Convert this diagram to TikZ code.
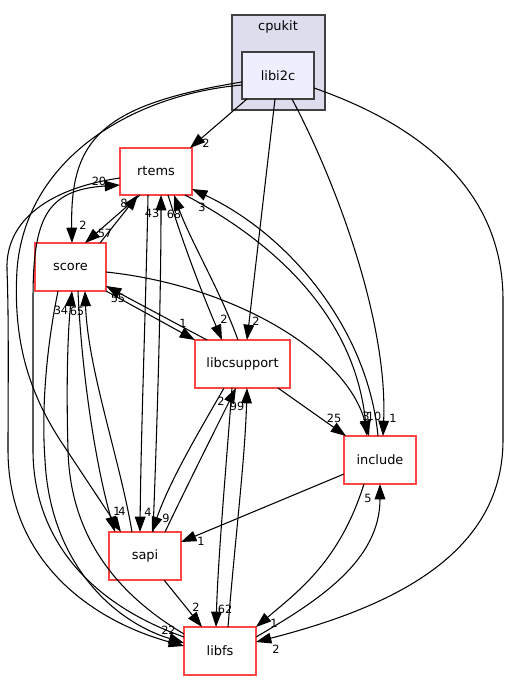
\documentclass[tikz,border=0pt]{standalone}
\usepackage{fontspec}
\setmainfont{DejaVu Sans}
\usetikzlibrary{arrows.meta,calc}
\definecolor{redb}{HTML}{FF4444}
\definecolor{clfill}{HTML}{DDDDEE}
\definecolor{nodefill}{HTML}{EEEEFF}
\definecolor{greyb}{HTML}{404040}
\begin{document}
\begin{tikzpicture}[x=0.75pt,y=-0.75pt,
  dirbox/.style={draw=redb, line width=1pt, fill=white, minimum width=54pt, minimum height=36pt, inner sep=0pt, outer sep=0pt, font=\fontsize{9.7}{11}\selectfont},
  curbox/.style={draw=greyb, line width=1.3pt, fill=nodefill, minimum width=54pt, minimum height=35.25pt, inner sep=0pt, outer sep=0pt, font=\fontsize{9.7}{11}\selectfont},
  clbox/.style={draw=greyb, line width=1pt, fill=clfill, minimum width=69.75pt, minimum height=71.25pt, inner sep=0pt, outer sep=0pt},
  edge/.style={line width=0.8pt, -{Triangle[length=11.5pt,width=8pt]}},
  elabel/.style={font=\fontsize{8.5}{10}\selectfont, inner sep=0pt}]
\useasboundingbox (0,0) rectangle (509,681);
% cluster
\node[clbox] (cpukit) at (278.5,62.5) {};
\node[font=\fontsize{9.7}{11}\selectfont, inner sep=0pt] (cpukitlbl) at (278,27) {cpukit};
% nodes
\node[curbox] (libi2c) at (278,75.5) {libi2c};
\node[dirbox, minimum height=35.25pt] (rtems) at (156,171.5) {rtems};
\node[dirbox, minimum width=53.25pt] (score) at (70.5,267) {score};
\node[dirbox, minimum width=71.25pt] (libcsupport) at (242.5,364) {libcsupport};
\node[dirbox] (include) at (380,460) {include};
\node[dirbox] (sapi) at (145,556) {sapi};
\node[dirbox] (libfs) at (220,651) {libfs};
% edges from libi2c
\draw[edge] ($(libi2c.south)+(-31,0)$) -- ($(rtems.north)+(34,0)$);
\draw[edge] ($(libi2c.west)+(0,6.5)$) .. controls (100,105) and (70,140) .. ($(score.north)+(1.5,0)$);
\draw[edge] ($(libi2c.west)+(0,9.5)$) .. controls (130,95) and (25,160) .. (17,270) .. controls (13,340) and (28,390) .. (60,440) -- ($(sapi.north)+(-24,0)$);
\draw[edge] ($(libi2c.south)+(-3,0)$) -- ($(libcsupport.north)+(4.5,0)$);
\draw[edge] ($(libi2c.south)+(14,0)$) .. controls (335,180) and (388,320) .. ($(include.north)+(3,0)$);
\draw[edge] ($(libi2c.east)+(0,12.5)$) .. controls (420,125) and (503,190) .. (503,300) -- (503,440) .. controls (503,560) and (380,610) .. ($(libfs.east)+(0,-9)$);
% rtems <-> score
\draw[edge] ($(rtems.south)+(-16,0)$) -- ($(score.north)+(14.5,0)$);
\draw[edge] ($(score.north)+(29.5,0)$) -- ($(rtems.south)+(-18,0)$);
% rtems <-> sapi
\draw[edge] ($(rtems.south)+(-8,0)$) .. controls (146,300) and (141,430) .. ($(sapi.north)+(-5,0)$);
\draw[edge] ($(sapi.north)+(8,0)$) .. controls (157,430) and (161,300) .. ($(rtems.south)+(5,0)$);
% libcsupport <-> sapi
\draw[edge] ($(libcsupport.south)+(-18.5,0)$) .. controls (200,430) and (170,480) .. ($(sapi.north)+(7,0)$);
\draw[edge] ($(sapi.north)+(20,0)$) .. controls (185,490) and (215,430) .. ($(libcsupport.south)+(-6.5,0)$);
% rtems <-> libcsupport
\draw[edge] ($(rtems.south)+(12,0)$) .. controls (185,250) and (205,300) .. ($(libcsupport.north)+(-20.5,0)$);
\draw[edge] ($(libcsupport.north)+(-4.5,0)$) .. controls (220,290) and (190,240) .. ($(rtems.south)+(18,0)$);
% rtems <-> include
\draw[edge] ($(rtems.south)+(29,0)$) .. controls (280,245) and (355,320) .. ($(include.north)+(-13,0)$);
\draw[edge] ($(include.north)+(-2,0)$) .. controls (368,330) and (290,235) .. ($(rtems.east)+(0,17.5)$);
% score -> include
\draw[edge] ($(score.east)+(0,5)$) .. controls (230,285) and (345,350) .. ($(include.north)+(-11,0)$);
% libcsupport -> include
\draw[edge] ($(libcsupport.south)+(35.5,0)$) -- ($(include.north west)+(2,0)$);
% libcsupport <-> score
\draw[edge] ($(libcsupport.north)+(-35.5,0)$) -- ($(score.east)+(0,19)$);
\draw[edge] (score.south east) -- (libcsupport.north west);
% include -> sapi
\draw[edge] ($(include.west)+(0,14)$) -- ($(sapi.east)+(0,-14)$);
% sapi -> libfs
\draw[edge] ($(sapi.south)+(19,0)$) -- ($(libfs.north)+(-18,0)$);
% libcsupport <-> libfs
\draw[edge] ($(libcsupport.south)+(-10.5,0)$) .. controls (225,480) and (218,560) .. ($(libfs.north)+(-4,0)$);
\draw[edge] ($(libfs.north)+(8,0)$) .. controls (235,540) and (245,460) .. ($(libcsupport.south)+(4.5,0)$);
% include <-> libfs
\draw[edge] ($(include.south)+(-16,0)$) .. controls (340,560) and (300,590) .. (libfs.north east);
\draw[edge] ($(libfs.east)+(0,-14)$) .. controls (320,600) and (380,560) .. (include.south);
% rtems <-> libfs
\draw[edge] ($(rtems.west)+(0,6.5)$) .. controls (50,188) and (5,220) .. (7,270) .. controls (9,320) and (8,400) .. (8,450) .. controls (8,560) and (90,620) .. ($(libfs.west)+(0,-5)$);
\draw[edge] ($(libfs.west)+(0,-14)$) .. controls (80,600) and (33,530) .. (33,450) -- (33,300) .. controls (33,220) and (45,190) .. ($(rtems.west)+(0,13.5)$);
% score <-> libfs
\draw[edge] ($(score.south)+(-12.5,0)$) .. controls (44,360) and (42,420) .. (45,460) .. controls (50,560) and (110,620) .. ($(libfs.west)+(0,-8)$);
\draw[edge] ($(libfs.west)+(0,-17)$) .. controls (110,590) and (70,530) .. (68,450) .. controls (66,380) and (68,330) .. ($(score.south)+(1.5,0)$);
% score <-> sapi
\draw[edge] ($(score.south)+(7.5,0)$) .. controls (82,380) and (97,470) .. ($(sapi.north)+(-30,0)$);
\draw[edge] ($(sapi.north)+(-13,0)$) .. controls (120,460) and (88,370) .. ($(score.south)+(14.5,0)$);
% labels
\node[elabel] (l01) at (206,143) {2};
\node[elabel] (l02) at (99,181) {20};
\node[elabel] (l03) at (124,203) {8};
\node[elabel] (l04) at (152,213) {43};
\node[elabel] (l05) at (174,214) {68};
\node[elabel] (l06) at (202,207) {3};
\node[elabel] (l07) at (83,225) {2};
\node[elabel] (l08) at (105,233) {57};
\node[elabel] (l09) at (118,298) {55};
\node[elabel] (l10) at (183,323) {1};
\node[elabel] (l11) at (224,319) {2};
\node[elabel] (l12) at (256,321) {2};
\node[elabel] (l13) at (61,310) {34};
\node[elabel] (l14) at (77,311) {65};
\node[elabel] (l15) at (221,401) {2};
\node[elabel] (l16) at (237,406) {99};
\node[elabel] (l17) at (334,418) {25};
\node[elabel] (l18) at (366,416) {3};
\node[elabel] (l19) at (374,416) {10};
\node[elabel] (l20) at (393,418) {1};
\node[elabel] (l21) at (117,511) {1};
\node[elabel] (l22) at (122,511) {4};
\node[elabel] (l23) at (148,512) {4};
\node[elabel] (l24) at (166,518) {9};
\node[elabel] (l25) at (201,541) {1};
\node[elabel] (l26) at (368,498) {5};
\node[elabel] (l27) at (196,607) {2};
\node[elabel] (l28) at (225,609) {62};
\node[elabel] (l29) at (165,630) {2};
\node[elabel] (l30) at (172,630) {2};
\node[elabel] (l31) at (274,623) {1};
\node[elabel] (l32) at (276,649) {2};
\end{tikzpicture}
\end{document}
